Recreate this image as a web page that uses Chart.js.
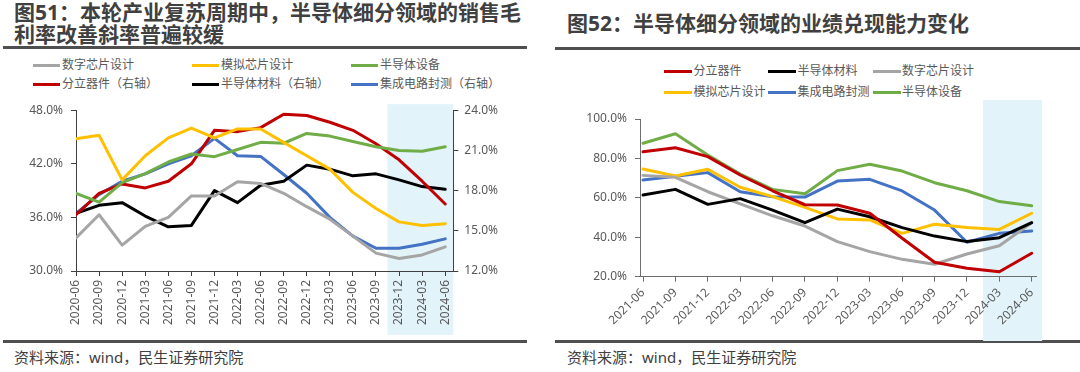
<!DOCTYPE html>
<html><head><meta charset="utf-8">
<script src="https://cdn.jsdelivr.net/npm/chart.js@4.4.1/dist/chart.umd.min.js"></script>
<style>
html,body{margin:0;padding:0;background:#fff;}
body{width:1080px;height:372px;position:relative;overflow:hidden;font-family:"Noto Sans","Noto Sans CJK SC",sans-serif;}
.title{position:absolute;font-weight:bold;font-size:21px;color:#404040;line-height:22px;white-space:nowrap;}
.rule{position:absolute;background:#4f4f4f;}
.foot{position:absolute;font-size:15px;color:#404040;line-height:16px;white-space:nowrap;}
.leg{position:absolute;font-size:12px;color:#595959;white-space:nowrap;height:16px;line-height:16px;}
.leg i{position:absolute;left:0;top:7px;height:3px;}
.leg span{position:absolute;top:0;}
canvas{position:absolute;}
</style></head>
<body>
<div class="title" style="left:14px;top:1px;">图51：本轮产业复苏周期中，半导体细分领域的销售毛<br>利率改善斜率普遍较缓</div>
<div class="rule" style="left:3px;top:46px;width:524px;height:3px;"></div>
<div class="title" style="left:567px;top:12px;">图52：半导体细分领域的业绩兑现能力变化</div>
<div class="rule" style="left:555px;top:47px;width:525px;height:3px;"></div>
<div class="rule" style="left:3px;top:340px;width:524px;height:3px;"></div>
<div class="rule" style="left:555px;top:340px;width:525px;height:3px;"></div>
<div class="foot" style="left:14px;top:349px;">资料来源：wind，民生证券研究院</div>
<div class="foot" style="left:567px;top:349px;">资料来源：wind，民生证券研究院</div>
<div id="legL"></div>
<div id="legR"></div>
<canvas id="c1" width="540" height="250" style="left:0;top:95px;"></canvas>
<canvas id="c2" width="540" height="250" style="left:540px;top:95px;"></canvas>
<script>
// ---------- Data: chart 51 ----------
const cats51 = ['2020-06','2020-09','2020-12','2021-03','2021-06','2021-09','2021-12','2022-03','2022-06','2022-09','2022-12','2023-03','2023-06','2023-09','2023-12','2024-03','2024-06'];
const digital51   = [33.7,36.3,32.9,35.0,36.0,38.4,38.4,40.0,39.8,38.7,37.2,35.8,33.9,32.0,31.4,31.8,32.7];
const analog51    = [44.8,45.2,40.2,42.9,44.9,46.0,44.9,45.9,45.9,44.4,42.9,41.4,38.8,37.0,35.5,35.1,35.3];
const equip51     = [38.7,37.7,39.9,40.9,42.2,43.1,42.8,43.6,44.4,44.3,45.4,45.1,44.5,43.9,43.5,43.4,43.9];
const discrete51  = [16.2,17.8,18.5,18.2,18.7,20.0,22.5,22.4,22.7,23.7,23.6,23.1,22.5,21.5,20.3,18.7,17.0];
const material51  = [16.3,16.9,17.1,16.1,15.3,15.4,18.0,17.1,18.4,18.7,19.9,19.6,19.1,19.25,18.8,18.3,18.1];
const packaging51 = [16.3,17.7,18.7,19.25,20.0,20.6,21.9,20.6,20.55,19.2,17.8,16.0,14.6,13.7,13.7,14.0,14.4];
const leftTicks51  = [30,36,42,48];
const rightTicks51 = [12,15,18,21,24];

// ---------- Data: chart 52 ----------
const cats52 = ['2021-06','2021-09','2021-12','2022-03','2022-06','2022-09','2022-12','2023-03','2023-06','2023-09','2023-12','2024-03','2024-06'];
const discrete52  = [83.4,85.4,80.9,71.6,63.6,56.5,56.4,52.2,39.5,27.3,24.3,22.5,31.9];
const material52  = [61.4,64.3,56.7,59.6,53.8,47.4,54.3,50.4,44.9,40.6,37.8,39.8,47.4];
const digital52   = [71.4,70.4,63.1,56.9,50.9,45.7,37.8,32.7,28.8,26.3,31.5,35.7,47.4];
const analog52    = [74.6,71.1,74.5,65.4,60.6,55.2,49.3,48.8,42.0,46.6,44.9,44.0,52.2];
const packaging52 = [69.0,70.9,72.8,63.1,60.6,60.4,68.5,69.4,63.5,53.8,37.5,42.0,43.2];
const equip52     = [87.7,92.5,81.7,72.1,64.3,62.1,73.8,77.0,73.6,67.7,63.6,58.1,56.0];
const yTicks52 = [20,40,60,80,100];

const C = {gray:'#A5A5A5', yellow:'#FFC000', green:'#70AD47', red:'#C00000', black:'#000000', blue:'#4472C4'};
const FONT = '"Noto Sans","Noto Sans CJK SC",sans-serif';

const series51 = [
  {name:'数字芯片设计', data:digital51, color:C.gray, axis:'yL'},
  {name:'模拟芯片设计', data:analog51, color:C.yellow, axis:'yL'},
  {name:'半导体设备', data:equip51, color:C.green, axis:'yL'},
  {name:'分立器件（右轴）', data:discrete51, color:C.red, axis:'yR'},
  {name:'半导体材料（右轴）', data:material51, color:C.black, axis:'yR'},
  {name:'集成电路封测（右轴）', data:packaging51, color:C.blue, axis:'yR'}
];
const series52 = [
  {name:'分立器件', data:discrete52, color:C.red},
  {name:'半导体材料', data:material52, color:C.black},
  {name:'数字芯片设计', data:digital52, color:C.gray},
  {name:'模拟芯片设计', data:analog52, color:C.yellow},
  {name:'集成电路封测', data:packaging52, color:C.blue},
  {name:'半导体设备', data:equip52, color:C.green}
];

// ---------- HTML legends ----------
function buildLegend(id, series, cols, rows, lineW, textX){
  const host = document.getElementById(id);
  series.forEach((s,k)=>{
    const d = document.createElement('div');
    d.className='leg';
    d.style.left = cols[k%3]+'px';
    d.style.top = rows[Math.floor(k/3)]+'px';
    d.innerHTML = '<i style="width:'+lineW+'px;background:'+s.color+'"></i><span style="left:'+textX+'px">'+s.name+'</span>';
    host.appendChild(d);
  });
}
buildLegend('legL', series51, [33,192,351], [56.5,76], 27, 29);
buildLegend('legR', series52, [664,768,872.5], [62.5,83.5], 28, 29.5);

// ---------- shading plugin ----------
const shadePlugin = {
  id:'shade',
  beforeDraw(chart, args, o){
    const {ctx, chartArea, scales} = chart;
    const x0 = scales.x.getPixelForValue(o.from), x1 = scales.x.getPixelForValue(o.to);
    const y0 = chartArea.top - o.above, y1 = chartArea.bottom + o.below;
    ctx.save(); ctx.fillStyle = '#E2F3FA'; ctx.fillRect(x0, y0, x1-x0, y1-y0); ctx.restore();
  }
};

function mkDatasets(series){
  return series.map(s=>({
    label:s.name, data:s.data.map((v,i)=>({x:i,y:v})), borderColor:s.color, backgroundColor:s.color,
    borderWidth:3, pointRadius:0, tension:0, fill:false, yAxisID:s.axis||'y',
    borderJoinStyle:'round', borderCapStyle:'round'
  }));
}
function axisBase(color){
  return {
    grid:{drawOnChartArea:false, drawTicks:true, tickLength:5, color:color, tickColor:color},
    border:{display:true, color:color, width:1}
  };
}
const tickFont = {family:FONT, size:12};

// ---------- Chart 51 ----------
const ax1 = '#404040';
new Chart(document.getElementById('c1'), {
  type:'line',
  data:{datasets:mkDatasets(series51)},
  options:{
    responsive:false, animation:false, devicePixelRatio:1,
    layout:{padding:{top:7.7,left:0,right:0,bottom:0}},
    plugins:{legend:{display:false}, tooltip:{enabled:false}, shade:{from:13.5, to:16.35, above:6, below:64}},
    scales:{
      x:Object.assign(axisBase(ax1), {
        type:'linear', min:0, max:16.35,
        afterBuildTicks:s=>{s.ticks = cats51.map((c,i)=>({value:i}));},
        afterFit:s=>{s.height=74;},
        ticks:{autoSkip:false, minRotation:90, maxRotation:90, padding:4, color:'#595959', font:tickFont,
               callback:(v)=>cats51[v]}
      }),
      yL:Object.assign(axisBase(ax1), {
        position:'left', min:30, max:48,
        afterBuildTicks:s=>{s.ticks = leftTicks51.map(v=>({value:v}));},
        afterFit:s=>{s.width=76;},
        ticks:{padding:8, color:'#595959', font:tickFont, callback:v=>v.toFixed(1)+'%'}
      }),
      yR:Object.assign(axisBase(ax1), {
        position:'right', min:12, max:24,
        afterBuildTicks:s=>{s.ticks = rightTicks51.map(v=>({value:v}));},
        afterFit:s=>{s.width=86.7;},
        ticks:{padding:6, color:'#595959', font:tickFont, callback:v=>v.toFixed(1)+'%'}
      })
    }
  },
  plugins:[shadePlugin]
});

// ---------- Chart 52 ----------
const ax2 = '#6e6e6e';
new Chart(document.getElementById('c2'), {
  type:'line',
  data:{datasets:mkDatasets(series52)},
  options:{
    responsive:false, animation:false, devicePixelRatio:1,
    layout:{padding:{top:24,left:0,right:43.3,bottom:0}},
    plugins:{legend:{display:false}, tooltip:{enabled:false}, shade:{from:10.5, to:12.32, above:19, below:64.3}},
    scales:{
      x:Object.assign(axisBase(ax2), {
        type:'linear', min:-0.093, max:12.154,
        afterBuildTicks:s=>{s.ticks = cats52.map((c,i)=>({value:i}));},
        afterFit:s=>{s.height=68.3;},
        ticks:{autoSkip:false, minRotation:45, maxRotation:45, padding:4, color:'#595959', font:tickFont,
               callback:(v)=>cats52[v]}
      }),
      y:Object.assign(axisBase(ax2), {
        position:'left', min:20, max:100,
        afterBuildTicks:s=>{s.ticks = yTicks52.map(v=>({value:v}));},
        afterFit:s=>{s.width=100;},
        ticks:{padding:8, color:'#595959', font:tickFont, callback:v=>v.toFixed(1)+'%'}
      })
    }
  },
  plugins:[shadePlugin]
});
</script>
</body></html>
